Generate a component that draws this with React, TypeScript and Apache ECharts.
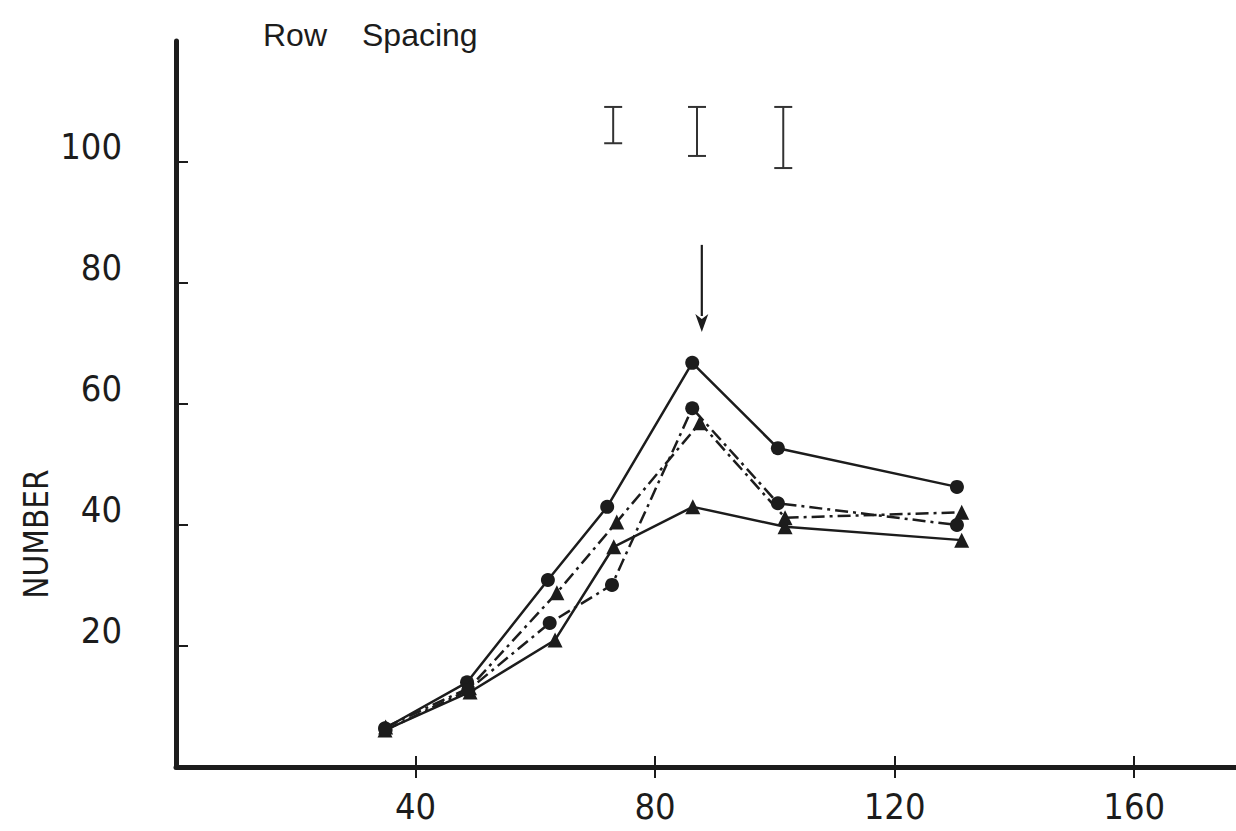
import { useEffect, useRef } from "react";
import * as echarts from "echarts";

// Axis ticks and labels
const xTickValues = [40, 80, 120, 160];
const yTickValues = [20, 40, 60, 80, 100];

// Solid line, filled circles
const solidCircleX = [34.9, 48.6, 62.1, 72.0, 86.2, 100.5, 130.4];
const solidCircleY = [6.4, 14.0, 30.9, 43.0, 66.8, 52.7, 46.3];
// Solid line, filled triangles
const solidTriangleX = [34.9, 49.1, 63.3, 73.1, 86.3, 101.7, 131.2];
const solidTriangleY = [6.1, 12.4, 21.0, 36.4, 43.0, 39.7, 37.5];
// Dash-dot line, filled triangles
const dashTriangleX = [35.0, 49.0, 63.6, 73.6, 87.5, 101.7, 131.2];
const dashTriangleY = [6.6, 13.1, 28.8, 40.5, 56.9, 41.2, 42.1];
// Dash-dot line, filled circles
const dashCircleX = [35.0, 48.8, 62.4, 72.8, 86.2, 100.5, 130.4];
const dashCircleY = [6.1, 12.7, 23.8, 30.1, 59.3, 43.6, 40.0];

// Least-significant-difference bars
const barX = [73.0, 87.0, 101.4];
const barLow = [103.1, 101.0, 99.0];
const barHigh = [109.1, 109.1, 109.1];

// Downward arrow marking the optimum spacing
const arrowX = [87.8];
const arrowFrom = [86.3];
const arrowTo = [71.9];

const INK = "#1c1c1c";
const NARROW = "'Liberation Sans Narrow', 'DejaVu Sans Condensed', 'Liberation Sans', sans-serif";
const REGULAR = "'Liberation Sans', Arial, sans-serif";

const zip = (xs: number[], ys: number[]) => xs.map((x, i) => [x, ys[i]]);

const lineSeries = (
  xs: number[],
  ys: number[],
  symbol: string,
  dashed: boolean
) => ({
  type: "line",
  data: zip(xs, ys),
  symbol,
  symbolSize: symbol === "circle" ? 14 : 15,
  itemStyle: { color: INK },
  lineStyle: {
    color: INK,
    width: 2.5,
    type: dashed ? [13, 5, 3, 5] : "solid",
  },
  z: 3,
});

export default function App() {
  const ref = useRef<HTMLDivElement>(null);

  useEffect(() => {
    if (!ref.current) return;
    const chart = echarts.init(ref.current, null, { renderer: "svg" });

    const xAxisBase = {
      type: "value",
      min: 0,
      max: 177,
      splitLine: { show: false },
    };

    chart.setOption({
      animation: false,
      backgroundColor: "#ffffff",
      grid: { left: 176, right: 0, top: 41, bottom: 64 },
      xAxis: [
        {
          ...xAxisBase,
          axisLine: { show: true, lineStyle: { color: INK, width: 5 } },
          axisTick: {
            show: true,
            customValues: xTickValues,
            length: 11,
            lineStyle: { color: INK, width: 2 },
          },
          axisLabel: {
            customValues: xTickValues,
            margin: 21,
            color: INK,
            fontSize: 36,
            fontFamily: NARROW,
          },
        },
        {
          ...xAxisBase,
          position: "bottom",
          axisLine: { show: false },
          axisTick: {
            show: true,
            inside: true,
            customValues: xTickValues,
            length: 11,
            lineStyle: { color: INK, width: 2 },
          },
          axisLabel: { show: false },
        },
      ],
      yAxis: {
        type: "value",
        min: 0,
        max: 120,
        splitLine: { show: false },
        axisLine: { show: true, lineStyle: { color: INK, width: 5 } },
        axisTick: {
          show: true,
          inside: true,
          customValues: yTickValues,
          length: 12,
          lineStyle: { color: INK, width: 2 },
        },
        axisLabel: {
          customValues: yTickValues,
          margin: 54,
          color: INK,
          fontSize: 36,
          lineHeight: 32,
          fontFamily: NARROW,
          verticalAlign: "bottom",
        },
      },
      graphic: [
        {
          type: "text",
          left: 263,
          top: 19,
          style: { text: "Row", font: `32px ${REGULAR}`, fill: INK },
        },
        {
          type: "text",
          left: 362,
          top: 19,
          style: { text: "Spacing", font: `32px ${REGULAR}`, fill: INK },
        },
        {
          type: "text",
          x: 36,
          y: 534,
          rotation: Math.PI / 2,
          style: {
            text: "NUMBER",
            font: `33px ${NARROW}`,
            fill: INK,
            align: "center",
            verticalAlign: "middle",
          },
        },
      ],
      series: [
        lineSeries(solidCircleX, solidCircleY, "circle", false),
        lineSeries(solidTriangleX, solidTriangleY, "triangle", false),
        lineSeries(dashTriangleX, dashTriangleY, "triangle", true),
        lineSeries(dashCircleX, dashCircleY, "circle", true),
        {
          type: "custom",
          data: barX.map((x, i) => [x, barLow[i], barHigh[i]]),
          encode: { x: 0, y: [1, 2] },
          renderItem: (_params: any, api: any) => {
            const x = api.value(0);
            const top = api.coord([x, api.value(2)]);
            const bot = api.coord([x, api.value(1)]);
            const half = 9;
            const style = { stroke: "#333333", lineWidth: 2 };
            return {
              type: "group",
              children: [
                { type: "line", shape: { x1: top[0], y1: top[1], x2: bot[0], y2: bot[1] }, style },
                { type: "line", shape: { x1: top[0] - half, y1: top[1], x2: top[0] + half, y2: top[1] }, style },
                { type: "line", shape: { x1: bot[0] - half, y1: bot[1], x2: bot[0] + half, y2: bot[1] }, style },
              ],
            };
          },
          z: 4,
        },
        {
          type: "custom",
          data: arrowX.map((x, i) => [x, arrowFrom[i], arrowTo[i]]),
          encode: { x: 0, y: [1, 2] },
          renderItem: (_params: any, api: any) => {
            const x = api.value(0);
            const start = api.coord([x, api.value(1)]);
            const tip = api.coord([x, api.value(2)]);
            const headLen = 18;
            const headHalf = 6.5;
            return {
              type: "group",
              children: [
                {
                  type: "line",
                  shape: { x1: start[0], y1: start[1], x2: tip[0], y2: tip[1] - headLen + 2 },
                  style: { stroke: INK, lineWidth: 2.2 },
                },
                {
                  type: "polygon",
                  shape: {
                    points: [
                      [tip[0], tip[1]],
                      [tip[0] - headHalf, tip[1] - headLen],
                      [tip[0], tip[1] - headLen + 5],
                      [tip[0] + headHalf, tip[1] - headLen],
                    ],
                  },
                  style: { fill: INK },
                },
              ],
            };
          },
          z: 4,
        },
      ],
    });

    return () => chart.dispose();
  }, []);

  return (
    <div
      ref={ref}
      style={{ position: "absolute", left: 0, top: 0, width: 1236, height: 831, background: "#fff" }}
    />
  );
}
